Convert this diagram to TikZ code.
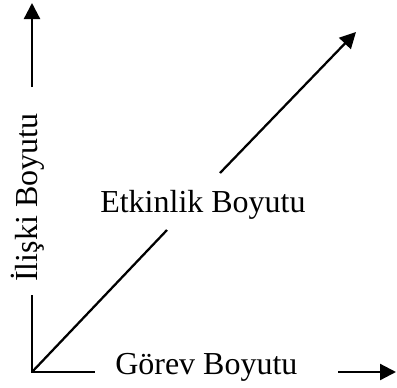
\documentclass[tikz,border=0pt]{standalone}
\usepackage{fontspec}
\setmainfont{Liberation Serif}
\usetikzlibrary{arrows.meta}
\begin{document}
\begin{tikzpicture}[x=0.75pt,y=-0.75pt,
  axis/.style={line width=1.7pt},
  arr/.style={axis,-{Triangle[length=12pt,width=12pt]}},
  lbl/.style={inner sep=0pt,font=\fontsize{24}{28}\selectfont}]
\useasboundingbox (0,0) rectangle (397,387);
\coordinate (O) at (32,372);
% labels
\node[lbl,anchor=base west] (gorev) at (115,374) {Görev Boyutu};
\node[lbl,anchor=base west] (etkin) at (100,212) {Etkinlik Boyutu};
\node[lbl,anchor=base west,rotate=90] (iliski) at (37,282) {İlişki Boyutu};
% segment ends
\coordinate (v1) at (32,295);
\coordinate (v2) at (32,87);
\coordinate (vt) at (32,3);
\coordinate (h1) at (95,372);
\coordinate (h2) at (338,372);
\coordinate (ht) at (396,372);
\coordinate (d1) at (167,230);
\coordinate (d2) at (220,173);
\coordinate (dt) at (356,32);
% axes
\draw[axis] (v1) -- (O) -- (h1);
\draw[arr] (v2) -- (vt);
\draw[arr] (h2) -- (ht);
\draw[axis] (O) -- (d1);
\draw[arr] (d2) -- (dt);
\end{tikzpicture}
\end{document}
